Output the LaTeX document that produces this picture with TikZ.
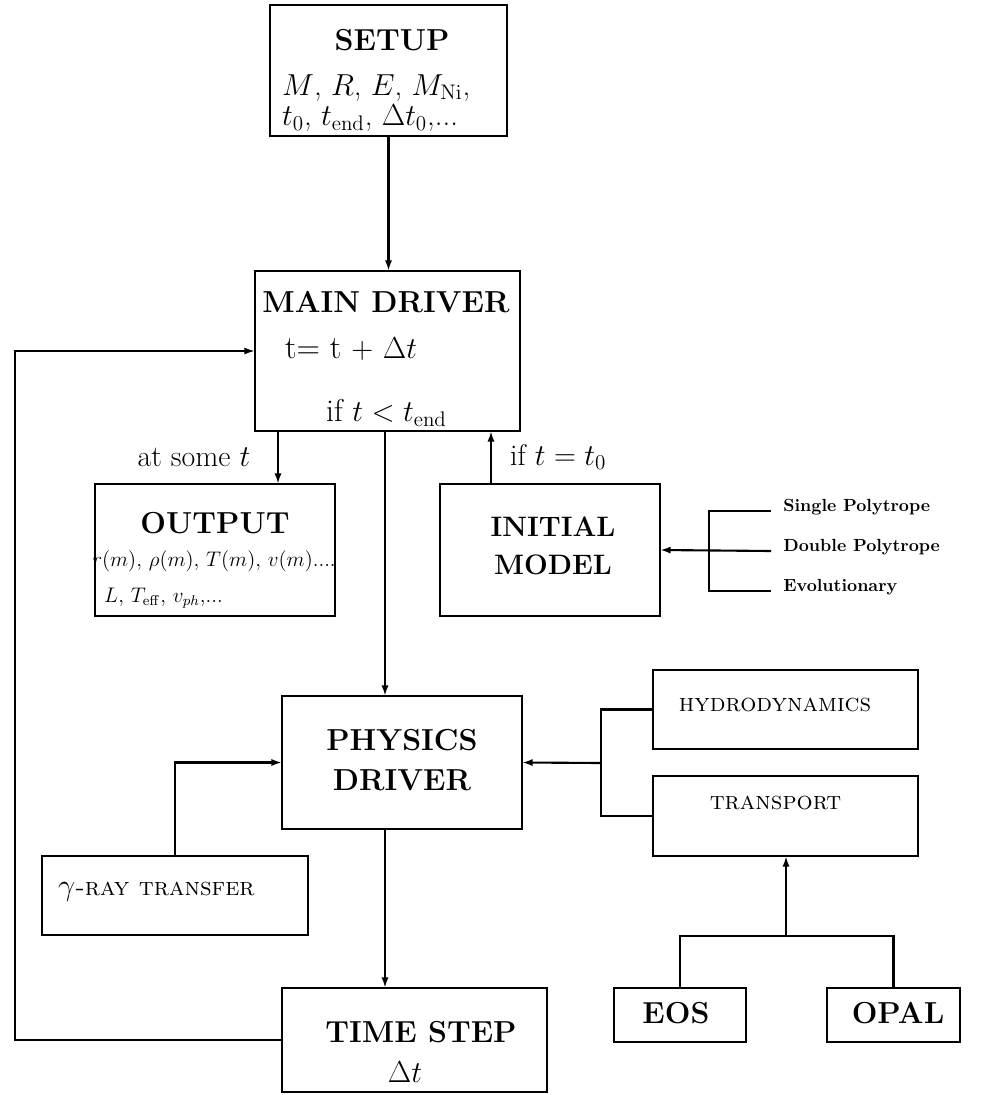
\documentclass[tikz,border=0pt]{standalone}
\usetikzlibrary{arrows.meta}
\tikzset{
  blk/.style 2 args={draw, line width=1.4pt, inner sep=0pt, outer sep=0pt, minimum width=#1cm, minimum height=#2cm},
  ttl/.style={font=\LARGE\bfseries},
  lbl/.style={font=\fontsize{17}{20}\selectfont},
  sml/.style={font=\large},
  sctxt/.style={font=\Large\scshape},
  sel/.style={font=\normalsize\bfseries, inner sep=0pt},
  conn/.style={line width=1.2pt},
  arr/.style={line width=1.2pt, -{Latex[length=6pt,width=4pt]}},
}
\begin{document}
\begin{tikzpicture}[x=0.02cm, y=-0.02cm]
    \useasboundingbox (0,0) rectangle (997,1095);

    % boxes
    \node[blk={4.74}{2.62}] (setup) at (388.5,70.5) {};
    \node[blk={5.30}{3.20}] (main) at (387.5,351) {};
    \node[blk={4.80}{2.64}] (output) at (215,550) {};
    \node[blk={4.40}{2.64}] (init) at (550,550) {};
    \node[blk={4.80}{2.66}] (phys) at (402,762.5) {};
    \node[blk={5.30}{1.58}] (hydro) at (785.5,709.5) {};
    \node[blk={5.30}{1.60}] (trans) at (785.5,816) {};
    \node[blk={5.32}{1.58}] (gamma) at (175,895.5) {};
    \node[blk={5.30}{2.08}] (tstep) at (414.5,1040) {};
    \node[blk={2.64}{1.08}] (eos) at (680,1015) {};
    \node[blk={2.66}{1.08}] (opal) at (893.5,1015) {};

    % texts
    \node[ttl] (setupt) at (392,40) {SETUP};
    \node[anchor=west, align=left, font=\fontsize{17.5}{17.5}\selectfont] (setupp) at (276,103) {$M$, $R$, $E$, $M_{\mathrm{Ni}}$,\\$t_0$, $t_{\mathrm{end}}$, $\Delta t_0$,...};
    \node[ttl] (maint) at (386,302) {MAIN DRIVER};
    \node[lbl, anchor=west, font=\fontsize{18.5}{20}\selectfont] (mainup) at (279,349) {t= t $+$ $\Delta t$};
    \node[lbl, anchor=west, font=\fontsize{18}{20}\selectfont] (mainif) at (320,413) {if $t < t_{\mathrm{end}}$};
    \node[lbl] (atsome) at (194,457) {at some $t$};
    \node[lbl, anchor=west] (ift0) at (504,457) {if $t = t_0$};
    \node[ttl] (outputt) at (215,523) {OUTPUT};
    \node[sml] (outputa) at (214,561) {$r(m)$, $\rho(m)$, $T(m)$, $v(m)$....};
    \node[sml, anchor=west] (outputb) at (98,598) {$L$, $T_{\mathrm{eff}}$, $v_{ph}$,...};
    \node[ttl, align=center, font=\fontsize{16}{21.5}\selectfont\bfseries] (initt) at (553,546) {INITIAL\\MODEL};
    \node[ttl, align=center, font=\fontsize{17.28}{22.7}\selectfont\bfseries] (physt) at (402,760) {PHYSICS\\DRIVER};
    \node[sctxt] (hydrot) at (775,705) {hydrodynamics};
    \node[sctxt] (transt) at (775.5,803) {transport};
    \node[sctxt, anchor=west] (gammat) at (52,892) {{\LARGE$\gamma$}-ray transfer};
    \node[ttl] (tstept) at (421,1032) {TIME STEP};
    \node[lbl, font=\LARGE] (tstepd) at (405,1072) {$\Delta t$};
    \node[ttl] (eost) at (676,1013) {EOS};
    \node[ttl] (opalt) at (898,1013) {OPAL};

    % initial model choices
    \node[sel, anchor=base west] (single) at (783,511) {Single Polytrope};
    \node[sel, anchor=base west] (double) at (783,551) {Double Polytrope};
    \node[sel, anchor=base west] (evol) at (783,591) {Evolutionary};
    \coordinate (ij) at (709,551);
    \coordinate (pj) at (601,763);
    \coordinate (tj) at (786,936);
    \coordinate (fb) at (15,700);
    \coordinate (outin) at (278,484);
    \coordinate (physin) at (385,696);
    \coordinate (initout) at (491,484);
    \coordinate (tsin) at (385,988);

    % connectors
    \draw[arr] (setup.south) -- (setup.south |- main.north);
    \draw[arr] (main.south -| outin) -- (outin);
    \draw[arr] (main.south -| physin) -- (physin);
    \draw[arr] (initout) -- (initout |- main.south);
    \draw[conn] (single.base west) ++(-12,0) -| (ij);
    \draw[conn] (evol.base west) ++(-12,0) -| (ij);
    \draw[arr] (double.base west) ++(-12,0) -- (init.east);
    \draw[conn] (hydro.west) -| (pj);
    \draw[conn] (trans.west) -| (pj);
    \draw[arr] (pj) -- (phys.east);
    \draw[arr] (gamma.north) |- (phys.west);
    \draw[arr] (phys.south -| tsin) -- (tsin);
    \draw[conn] (eos.north) |- (tj) -| (opal.north);
    \draw[arr] (tj) -- (tj |- trans.south);
    \draw[arr] (tstep.west) -| (fb) |- (main.west);
\end{tikzpicture}
\end{document}
